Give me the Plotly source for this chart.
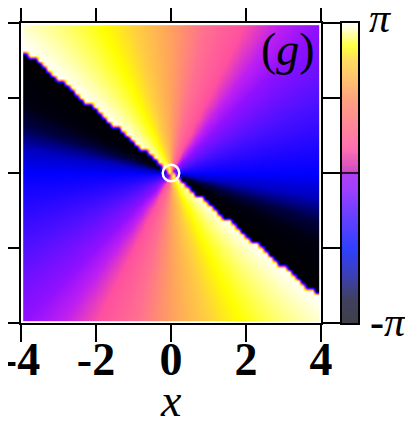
import numpy as np
import plotly.graph_objects as go

# phase map of a charge-2 vortex, sampled on a 64x64 grid
x_grid = np.linspace(-3.88, 3.88, 64)
y_grid = np.linspace(-3.88, 3.88, 64)
vortex_charge = 2
phase_offset = -1.75  # rad, puts the branch cut at ~140 deg

x_ticks = [-4, -2, 0, 2, 4]
x_tick_labels = ["-4", "-2", "0", "2", "4"]
cbar_labels = ["π", "-π"]

XX, YY = np.meshgrid(x_grid, y_grid)
phase = np.angle(np.exp(1j * (vortex_charge * np.arctan2(YY, XX) + phase_offset)))

# colorbar column
cbar_levels = np.linspace(-np.pi, np.pi, 256)

map_scale = [
    [0.0, "#000000"], [0.08, "#000010"], [0.12, "#000040"], [0.17, "#0000c0"],
    [0.22, "#0000ff"], [0.37, "#5010ff"], [0.47, "#9010ff"], [0.52, "#c020f0"],
    [0.575, "#ff50a0"], [0.65, "#ff7090"], [0.72, "#ffa060"], [0.8, "#ffd040"],
    [0.86, "#ffff00"], [0.93, "#ffff80"], [1.0, "#ffffff"],
]
bar_scale = [
    [0.0, "#404048"], [0.08, "#404060"], [0.17, "#3a40c0"], [0.25, "#3040ff"],
    [0.37, "#7040ff"], [0.45, "#a040ff"], [0.5, "#b040f0"], [0.51, "#d050c0"],
    [0.58, "#ff70b0"], [0.74, "#ffa080"], [0.88, "#ffe060"], [0.92, "#ffff40"],
    [1.0, "#ffffff"],
]

fig = go.Figure()

fig.add_trace(go.Heatmap(x=x_grid, y=y_grid, z=phase, zmin=-np.pi, zmax=np.pi,
                         colorscale=map_scale, showscale=False, zsmooth="best",
                         hoverinfo="skip"))

fig.add_trace(go.Heatmap(x=[0], y=cbar_levels, z=cbar_levels[:, None],
                         zmin=-np.pi, zmax=np.pi, colorscale=bar_scale,
                         showscale=False, xaxis="x2", yaxis="y2", hoverinfo="skip"))

axis_style = dict(showline=True, linewidth=2, linecolor="black", mirror="ticks",
                  ticks="outside", ticklen=17, tickwidth=2, tickcolor="black",
                  showgrid=False, zeroline=False, range=[-4, 4],
                  tickvals=x_ticks, automargin=False)

# page body has an 8px margin, so the figure is 8px smaller than the window
fig.update_layout(
    width=405, height=413,
    margin=dict(l=13, r=55, t=15, b=98),
    paper_bgcolor="white", plot_bgcolor="white",
    showlegend=False,
    xaxis=dict(domain=[0, 0.8902], ticktext=x_tick_labels, ticklabelstandoff=-22,
               ticklabeloverflow="allow",
               tickfont=dict(family="Liberation Serif", size=46, color="black", weight="bold"),
               **axis_style),
    yaxis=dict(domain=[0, 1], showticklabels=False, **axis_style),
    xaxis2=dict(domain=[0.9525, 1], anchor="y2", range=[-0.5, 0.5], showline=True,
                linewidth=2, linecolor="black", mirror=True, showticklabels=False,
                ticks="", showgrid=False, zeroline=False, automargin=False),
    yaxis2=dict(domain=[0, 1], anchor="x2", range=[-np.pi, np.pi], showline=True,
                linewidth=2, linecolor="black", mirror=True, showticklabels=False,
                ticks="", showgrid=False, zeroline=False, automargin=False),
)

# vortex core marker
fig.add_shape(type="circle", xref="x", yref="y", x0=-0.22, x1=0.22, y0=-0.22, y1=0.22,
              line=dict(color="white", width=2.5))
# mid line on the colorbar
fig.add_shape(type="line", xref="x2", yref="y2", x0=-0.5, x1=0.5, y0=0, y1=0,
              line=dict(color="black", width=1.5))

text_font = dict(family="Liberation Serif", color="black")
fig.add_annotation(x=0, y=-0.257, xref="x", yref="paper", text="<i>x</i>", showarrow=False,
                   xanchor="center", yanchor="middle", font=dict(size=46, **text_font))
fig.add_annotation(x=3.12, y=3.3, xref="x", yref="y", text="(<i>g</i>)", showarrow=False,
                   xanchor="center", yanchor="middle", font=dict(size=46, **text_font))
fig.add_annotation(x=1.065, y=1.017, xref="paper", yref="paper",
                   text="<i>" + cbar_labels[0] + "</i>", showarrow=False,
                   xanchor="center", yanchor="middle", font=dict(size=42, **text_font))
fig.add_annotation(x=1.089, y=0.003, xref="paper", yref="paper",
                   text="<b>-</b><i>" + cbar_labels[1][1:] + "</i>", showarrow=False,
                   xanchor="center", yanchor="middle", font=dict(size=42, **text_font))

fig.write_html("out.html")
